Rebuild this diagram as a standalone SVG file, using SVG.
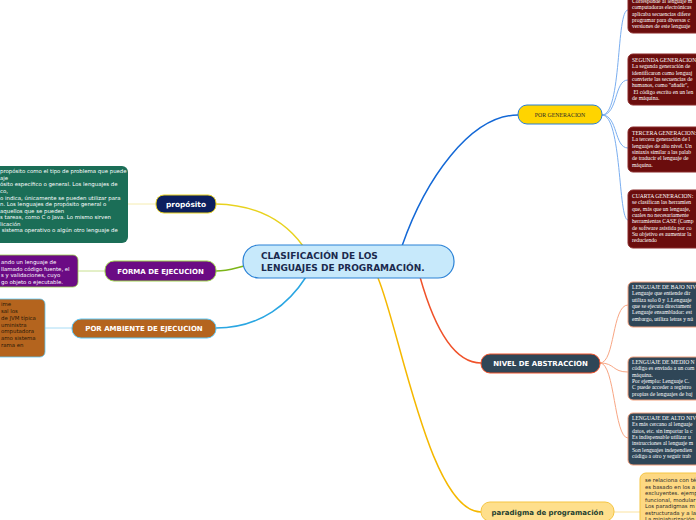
<svg xmlns="http://www.w3.org/2000/svg" width="696" height="520" viewBox="0 0 696 520">
<style>
.lbl{font-family:"DejaVu Sans",Verdana,sans-serif;font-weight:bold;font-size:7px;fill:#fff;text-anchor:middle}
.lt{font-family:"DejaVu Sans",Verdana,sans-serif;font-size:5.4px;fill:#fff}
.rt{font-family:"Liberation Serif","DejaVu Serif",serif;font-size:5.6px;fill:#fff}
.con{fill:none;stroke-width:1.5}
.thin{fill:none;stroke-width:1}
.red{fill:#6b0d0d;stroke:#8a2a2a;stroke-width:1}
.slate{fill:#2f4657;stroke:#f4a07c;stroke-width:1}
</style>
<g id="connectors">
<path class="con" d="M216,204 C265,205 290,228 303,246" stroke="#e8d21e"/>
<path class="con" d="M216,271 C228,271 235,268 244,266" stroke="#7cb518"/>
<path class="con" d="M216,328 C262,328 290,302 306,277" stroke="#2aa6e2"/>
<path class="con" d="M402,246 C425,180 470,115 518,115" stroke="#1368d6"/>
<path class="con" d="M420,277 C435,330 455,363 481,363" stroke="#f0522a"/>
<path class="con" d="M378,278 C400,330 430,512 481,512" stroke="#f5b800"/>
<path class="thin" d="M128,204 L156,204" stroke="#f5ecb0"/>
<path class="thin" d="M78,271 L105,271" stroke="#c8e090"/>
<path class="thin" d="M45,328 L72,328" stroke="#a8dcf5"/>
<path class="thin" d="M602,115 C622,115 616,10 628,10" stroke="#7aaef0"/>
<path class="thin" d="M602,115 C618,115 614,80 628,80" stroke="#7aaef0"/>
<path class="thin" d="M602,115 C618,115 614,148 628,148" stroke="#7aaef0"/>
<path class="thin" d="M602,115 C622,115 618,220 628,220" stroke="#7aaef0"/>
<path class="thin" d="M600,363 C615,363 612,305 628,305" stroke="#f8a684"/>
<path class="thin" d="M600,363 C615,363 612,372 628,372" stroke="#f8a684"/>
<path class="thin" d="M600,363 C615,363 614,438 628,438" stroke="#f8a684"/>
<path class="thin" d="M614,512 L640,512" stroke="#fbe3a0"/>
</g>
<g id="center">
<rect x="243" y="245" width="211" height="33" rx="16" fill="#c7e9fb" stroke="#2b82d6" stroke-width="1.2"/>
<text x="261" y="259" font-family="'DejaVu Sans',Verdana,sans-serif" font-weight="bold" font-size="9" fill="#1b2a4e">CLASIFICACIÓN DE LOS</text>
<text x="261" y="271" font-family="'DejaVu Sans',Verdana,sans-serif" font-weight="bold" font-size="9" fill="#1b2a4e">LENGUAJES DE PROGRAMACIÓN.</text>
</g>
<g id="proposito">
<rect x="156" y="195" width="60" height="18" rx="8" fill="#0c1f5e" stroke="#e8d21e" stroke-width="1"/>
<text class="lbl" x="186" y="206.5" style="font-size:7.4px">propósito</text>
</g>
<g id="forma">
<rect x="105" y="261" width="111" height="20" rx="9" fill="#6b0b84" stroke="#9bd24a" stroke-width="1"/>
<text class="lbl" x="160.5" y="273.5">FORMA DE EJECUCION</text>
</g>
<g id="ambiente">
<rect x="72" y="319" width="144" height="19" rx="9" fill="#b4641e" stroke="#5cc6f5" stroke-width="1"/>
<text class="lbl" x="144" y="331">POR AMBIENTE DE EJECUCION</text>
</g>
<g id="generacion">
<rect x="518" y="105" width="84" height="19" rx="9" fill="#ffd400" stroke="#2b7fd2" stroke-width="1"/>
<text x="560" y="117" font-family="'Liberation Serif',serif" font-size="5.8" fill="#2a2a2a" text-anchor="middle">POR GENERACION</text>
</g>
<g id="nivel">
<rect x="481" y="354" width="119" height="19" rx="9" fill="#2f4657" stroke="#f0522a" stroke-width="1"/>
<text class="lbl" x="540.5" y="366">NIVEL DE ABSTRACCION</text>
</g>
<g id="paradigma">
<rect x="481" y="502" width="133" height="19" rx="9" fill="#fedf8c" stroke="#f5c542" stroke-width="1"/>
<text class="lbl" x="547.5" y="514.5" style="fill:#1e4030">paradigma de programación</text>
</g>
<g id="leaf-proposito">
<rect x="-10" y="166" width="138" height="77" rx="6" fill="#1b6e57"/>
<text class="lt"><tspan x="0" y="173">propósito como el tipo de problema que puede</tspan><tspan x="0" y="179.5">aje</tspan><tspan x="0" y="186">ósito específico o general. Los lenguajes de</tspan><tspan x="0" y="192.5">co,</tspan><tspan x="0" y="199.5">o indica, únicamente se pueden utilizar para</tspan><tspan x="0" y="206">n. Los lenguajes de propósito general o</tspan><tspan x="0" y="212.5">aquellos que se pueden</tspan><tspan x="0" y="219">s tareas, como C o Java. Lo mismo sirven</tspan><tspan x="0" y="225.5">licación</tspan><tspan x="0" y="232"> sistema operativo o algún otro lenguaje de</tspan></text>
</g>
<g id="leaf-forma">
<rect x="-10" y="255" width="88" height="32" rx="5" fill="#6b0b84" stroke="#9bd24a" stroke-width="0.8"/>
<text class="lt"><tspan x="1" y="264">ando un lenguaje de</tspan><tspan x="1" y="270.5">llamado código fuente, el</tspan><tspan x="1" y="277">s y validaciones, cuyo</tspan><tspan x="1" y="283.5">go objeto o ejecutable.</tspan></text>
</g>
<g id="leaf-ambiente">
<rect x="-10" y="299" width="55" height="58" rx="5" fill="#b4641e" stroke="#5cc6f5" stroke-width="0.8"/>
<text class="lt" style="fill:#2a1808"><tspan x="1" y="306">ime</tspan><tspan x="1" y="313">sal los</tspan><tspan x="1" y="320">de JVM típica</tspan><tspan x="1" y="326.5">uministra</tspan><tspan x="1" y="333">omputadora</tspan><tspan x="1" y="340">amo sistema</tspan><tspan x="1" y="346.5">rama en</tspan></text>
</g>
<g id="gen1">
<rect class="red" x="628" y="-6" width="80" height="39" rx="5"/>
<text class="rt"><tspan x="632" y="3">Corresponde al lenguaje m</tspan><tspan x="632" y="9.3">computadoras electrónicas</tspan><tspan x="632" y="15.6">aplicaba secuencias difere</tspan><tspan x="632" y="21.9">programar para diversas c</tspan><tspan x="632" y="28.2">versiones de este lenguaje</tspan></text>
</g>
<g id="gen2">
<rect class="red" x="628" y="54" width="80" height="51" rx="5"/>
<text class="rt"><tspan x="632" y="62">SEGUNDA GENERACION:</tspan><tspan x="632" y="68.3">La segunda generación de</tspan><tspan x="632" y="74.6">identificaron como lenguaj</tspan><tspan x="632" y="80.9">convierte las secuencias de</tspan><tspan x="632" y="87.2">humanos, como "añadir",</tspan><tspan x="632" y="93.5"> El código escrito en un len</tspan><tspan x="632" y="99.8">de máquina.</tspan></text>
</g>
<g id="gen3">
<rect class="red" x="628" y="127" width="80" height="45" rx="5"/>
<text class="rt"><tspan x="632" y="135">TERCERA GENERACION:</tspan><tspan x="632" y="141.3">La tercera generación de l</tspan><tspan x="632" y="147.6">lenguajes de alto nivel. Un</tspan><tspan x="632" y="153.9">sintaxis similar a las palab</tspan><tspan x="632" y="160.2">de traducir el lenguaje de</tspan><tspan x="632" y="166.5">máquina.</tspan></text>
</g>
<g id="gen4">
<rect class="red" x="628" y="190" width="80" height="58" rx="5"/>
<text class="rt"><tspan x="632" y="198">CUARTA GENERACION:</tspan><tspan x="632" y="204.3">se clasifican las herramien</tspan><tspan x="632" y="210.6">que, más que un lenguaje,</tspan><tspan x="632" y="216.9">cuales no necesariamente</tspan><tspan x="632" y="223.2">herramientas CASE (Comp</tspan><tspan x="632" y="229.5">de software asistida por co</tspan><tspan x="632" y="235.8">Su objetivo es aumentar la</tspan><tspan x="632" y="242.1">reduciendo</tspan></text>
</g>
<g id="bajo">
<rect class="slate" x="628" y="282" width="80" height="45" rx="5"/>
<text class="rt"><tspan x="632" y="289">LENGUAJE DE BAJO NIV</tspan><tspan x="632" y="295.3">Lenguaje que entiende dir</tspan><tspan x="632" y="301.6">utiliza solo 0 y 1.Lenguaje</tspan><tspan x="632" y="307.9">que se ejecuta directament</tspan><tspan x="632" y="314.2">Lenguaje ensamblador: est</tspan><tspan x="632" y="320.5">embargo, utiliza letras y nú</tspan></text>
</g>
<g id="medio">
<rect class="slate" x="628" y="357" width="80" height="43" rx="5"/>
<text class="rt"><tspan x="632" y="364">LENGUAJE DE MEDIO N</tspan><tspan x="632" y="370.3">código es enviado a un com</tspan><tspan x="632" y="376.6">máquina.</tspan><tspan x="632" y="382.9">Por ejemplo: Lenguaje C.</tspan><tspan x="632" y="389.2">C puede acceder a registro</tspan><tspan x="632" y="395.5">propias de lenguajes de baj</tspan></text>
</g>
<g id="alto">
<rect class="slate" x="628" y="413" width="80" height="52" rx="5"/>
<text class="rt"><tspan x="632" y="420">LENGUAJE DE ALTO NIV</tspan><tspan x="632" y="426.3">Es más cercano al lenguaje</tspan><tspan x="632" y="432.6">datos, etc. sin importar la c</tspan><tspan x="632" y="438.9">Es indispensable utilizar u</tspan><tspan x="632" y="445.2">instrucciones al lenguaje m</tspan><tspan x="632" y="451.5">Son lenguajes independien</tspan><tspan x="632" y="457.8">código a otro y seguir trab</tspan></text>
</g>
<g id="paradigma-leaf">
<rect x="640" y="473" width="70" height="55" rx="6" fill="#fdd882" stroke="#f5c542" stroke-width="1"/>
<text class="lt" style="fill:#2a2a2a"><tspan x="645" y="482">se relaciona con té</tspan><tspan x="645" y="488.5">es basado en los a</tspan><tspan x="645" y="495">excluyentes. ejemp</tspan><tspan x="645" y="501.5">funcional, modular</tspan><tspan x="645" y="508">Los paradigmas m</tspan><tspan x="645" y="514.5">estructurada y a la</tspan><tspan x="645" y="521">La miniaturización</tspan></text>
</g>
</svg>
